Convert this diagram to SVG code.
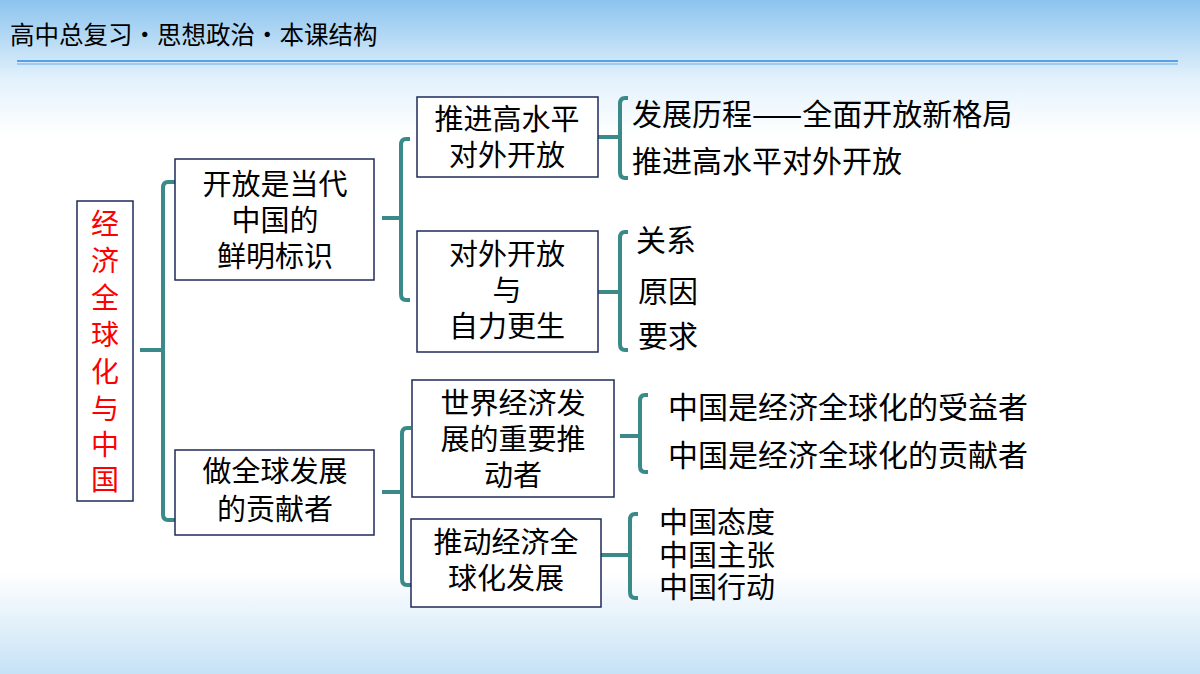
<svg xmlns="http://www.w3.org/2000/svg" width="1200" height="674" viewBox="0 0 1200 674">
<defs>
<linearGradient id="bg" x1="0" y1="0" x2="0" y2="1">
<stop offset="0" stop-color="#8cc4ee"/><stop offset="0.12" stop-color="#e4f2fc"/><stop offset="0.2" stop-color="#ffffff"/><stop offset="0.85" stop-color="#ffffff"/><stop offset="1" stop-color="#c6e2f6"/>
</linearGradient>
<style>
.b{fill:#fff;stroke:#1f2a5a;stroke-width:1.5}
.t{font-family:"Noto Sans CJK SC","Noto Sans",sans-serif;font-size:29px;fill:#000}
.l{font-size:30px}
.m{text-anchor:middle}
.k{fill:none;stroke:#3a8a8a;stroke-width:4}
</style>
</defs>
<rect width="1200" height="674" fill="url(#bg)"/>
<text x="10" y="44" class="t" style="font-size:24.5px">高中总复习・思想政治・本课结构</text>
<line x1="17" y1="61" x2="1178" y2="61" stroke="#5aa0e8" stroke-width="2"/>
<line x1="17" y1="64" x2="1178" y2="64" stroke="#8cc0f0" stroke-width="1.5"/>
<g id="connectors">
<path class="k" d="M140 350H163M175 182H168Q163 182 163 188V514Q163 520 168 520H175"/>
<path class="k" d="M382 218H401M410 139H406Q401 139 401 145V294Q401 300 406 300H410"/>
<path class="k" d="M598 137H620M628 98H625Q620 98 620 104V172Q620 178 625 178H628"/>
<path class="k" d="M598 292H620M628 232H625Q620 232 620 238V344Q620 350 625 350H628"/>
<path class="k" d="M382 492H402M411 428H407Q402 428 402 434V579Q402 585 407 585H411"/>
<path class="k" d="M620 436H640M648 395H645Q640 395 640 401V466Q640 472 645 472H648"/>
<path class="k" d="M601 555H630M638 514H635Q630 514 630 520V592Q630 598 635 598H638"/>
</g>
<g id="root"><rect class="b" x="77" y="201" width="56" height="300"/>
<text class="t m" style="fill:#f00;font-size:28px"><tspan x="105" y="234">经</tspan><tspan x="105" y="271">济</tspan><tspan x="105" y="308">全</tspan><tspan x="105" y="345">球</tspan><tspan x="105" y="382">化</tspan><tspan x="105" y="419">与</tspan><tspan x="105" y="455">中</tspan><tspan x="105" y="490">国</tspan></text></g>
<g id="n1"><rect class="b" x="175" y="159" width="199" height="121"/>
<text class="t m"><tspan x="275" y="195">开放是当代</tspan><tspan x="275" y="231">中国的</tspan><tspan x="275" y="267">鲜明标识</tspan></text></g>
<g id="n2"><rect class="b" x="175" y="450" width="199" height="85"/>
<text class="t m"><tspan x="275" y="482">做全球发展</tspan><tspan x="275" y="520">的贡献者</tspan></text></g>
<g id="n1a"><rect class="b" x="417" y="97" width="181" height="80"/>
<text class="t m"><tspan x="507" y="130">推进高水平</tspan><tspan x="507" y="166">对外开放</tspan></text></g>
<g id="n1b"><rect class="b" x="417" y="231" width="181" height="121"/>
<text class="t m"><tspan x="507" y="265">对外开放</tspan><tspan x="507" y="301">与</tspan><tspan x="507" y="337">自力更生</tspan></text></g>
<g id="n2a"><rect class="b" x="412" y="380" width="202" height="117"/>
<text class="t m"><tspan x="513" y="414">世界经济发</tspan><tspan x="513" y="450">展的重要推</tspan><tspan x="513" y="486">动者</tspan></text></g>
<g id="n2b"><rect class="b" x="411" y="519" width="190" height="88"/>
<text class="t m"><tspan x="506" y="553">推动经济全</tspan><tspan x="506" y="589">球化发展</tspan></text></g>
<g id="leaves">
<text class="t l" x="632" y="125">发展历程——全面开放新格局</text>
<text class="t l" x="632" y="172">推进高水平对外开放</text>
<text class="t l" x="636" y="251">关系</text>
<text class="t l" x="638" y="302">原因</text>
<text class="t l" x="638" y="347">要求</text>
<text class="t l" x="668" y="418">中国是经济全球化的受益者</text>
<text class="t l" x="668" y="466">中国是经济全球化的贡献者</text>
<text class="t" x="659" y="533">中国态度</text>
<text class="t" x="659" y="566">中国主张</text>
<text class="t" x="659" y="598">中国行动</text>
</g>
</svg>
